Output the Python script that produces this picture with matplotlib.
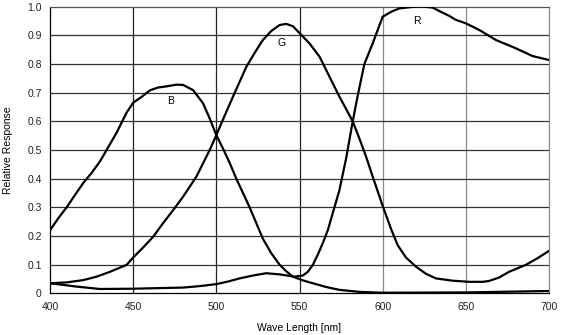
import matplotlib.pyplot as plt

plt.rcParams['font.family'] = ['Liberation Sans', 'DejaVu Sans']

# spectral response curves
b_wl = [400, 405, 410, 415, 420, 425, 430, 435, 440, 446, 450, 455, 460, 465, 470, 476,
        480, 486, 492, 496, 500, 504, 508, 512, 516, 520, 524, 528, 533, 538, 542, 546,
        552, 558, 566, 574, 586, 600, 650, 700]
b_resp = [0.22, 0.262, 0.30, 0.343, 0.385, 0.42, 0.46, 0.51, 0.56, 0.63, 0.665, 0.685,
          0.708, 0.718, 0.722, 0.728, 0.727, 0.709, 0.663, 0.61, 0.552, 0.505, 0.455, 0.40,
          0.35, 0.30, 0.245, 0.19, 0.14, 0.10, 0.077, 0.058, 0.045, 0.035, 0.022, 0.012,
          0.005, 0.002, 0.003, 0.008]

g_wl = [400, 410, 420, 428, 436, 446, 450, 456, 462, 468, 474, 480, 488, 496, 500, 505,
        510, 518, 524, 528, 533, 538, 542, 546, 550, 556, 562, 568, 574, 582, 586, 590,
        595, 600, 605, 609, 614, 620, 626, 632, 642, 652, 660, 664, 670, 676, 686, 693,
        700]
g_resp = [0.035, 0.038, 0.046, 0.058, 0.075, 0.099, 0.125, 0.16, 0.197, 0.245, 0.29,
          0.337, 0.407, 0.50, 0.552, 0.62, 0.686, 0.79, 0.848, 0.884, 0.915, 0.936, 0.94,
          0.932, 0.908, 0.872, 0.826, 0.756, 0.686, 0.60, 0.54, 0.477, 0.39, 0.305, 0.225,
          0.168, 0.125, 0.093, 0.068, 0.052, 0.044, 0.04, 0.04, 0.043, 0.055, 0.075,
          0.099, 0.122, 0.148]

r_wl = [400, 415, 430, 450, 480, 490, 500, 507, 514, 522, 530, 538, 547, 552, 555, 558,
        561, 564, 567, 570, 574, 578, 582, 585, 589, 594, 600, 605, 610, 619, 625, 630,
        634, 640, 644, 650, 658, 668, 680, 690, 700]
r_resp = [0.035, 0.024, 0.015, 0.016, 0.02, 0.025, 0.032, 0.041, 0.052, 0.062, 0.07,
          0.066, 0.058, 0.062, 0.075, 0.099, 0.135, 0.175, 0.22, 0.28, 0.36, 0.47, 0.60,
          0.69, 0.80, 0.872, 0.965, 0.982, 0.994, 1.0, 1.0, 0.997, 0.985, 0.968, 0.954,
          0.942, 0.919, 0.884, 0.855, 0.828, 0.814]

x_ticks = [400, 450, 500, 550, 600, 650, 700]
y_ticks = [0, 0.1, 0.2, 0.3, 0.4, 0.5, 0.6, 0.7, 0.8, 0.9, 1.0]
y_labels = ['0', '0.1', '0.2', '0.3', '0.4', '0.5', '0.6', '0.7', '0.8', '0.9', '1.0']

fig = plt.figure(figsize=(5.64, 3.35), dpi=100)
ax = fig.add_axes([0.0887, 0.1245, 0.8847, 0.8555])

for wl in x_ticks[1:4]:
    ax.axvline(wl, color='#222222', lw=0.9, zorder=1)
for wl in x_ticks[4:6]:
    ax.axvline(wl, color='#8a8a8a', lw=0.9, zorder=1)
for v in y_ticks[1:-1]:
    ax.axhline(v, color='#333333', lw=0.9, zorder=1)

for wl, resp in [(b_wl, b_resp), (g_wl, g_resp), (r_wl, r_resp)]:
    ax.plot(wl, resp, color='black', lw=1.6, zorder=3,
            solid_joinstyle='round', solid_capstyle='round')

ax.text(472.7, 0.671, 'B', fontsize=7.5, ha='center', va='center')
ax.text(539.3, 0.874, 'G', fontsize=7.5, ha='center', va='center')
ax.text(620.4, 0.950, 'R', fontsize=7.5, ha='center', va='center')

ax.set_xlim(400, 700)
ax.set_ylim(0, 1.0)
ax.set_xticks(x_ticks)
ax.set_yticks(y_ticks)
ax.set_yticklabels(y_labels)
ax.tick_params(length=0, labelsize=7.5, pad=6, colors='#222222')
ax.spines['left'].set_color('black')
ax.spines['bottom'].set_color('black')
ax.spines['top'].set_color('#555555')
ax.spines['right'].set_color('#888888')
for s in ax.spines.values():
    s.set_linewidth(0.9)

ax.set_xlabel('Wave Length [nm]', fontsize=7.5, labelpad=8)
ax.set_ylabel('Relative Response', fontsize=7.5, labelpad=10)

plt.savefig('out.png', dpi=100)
